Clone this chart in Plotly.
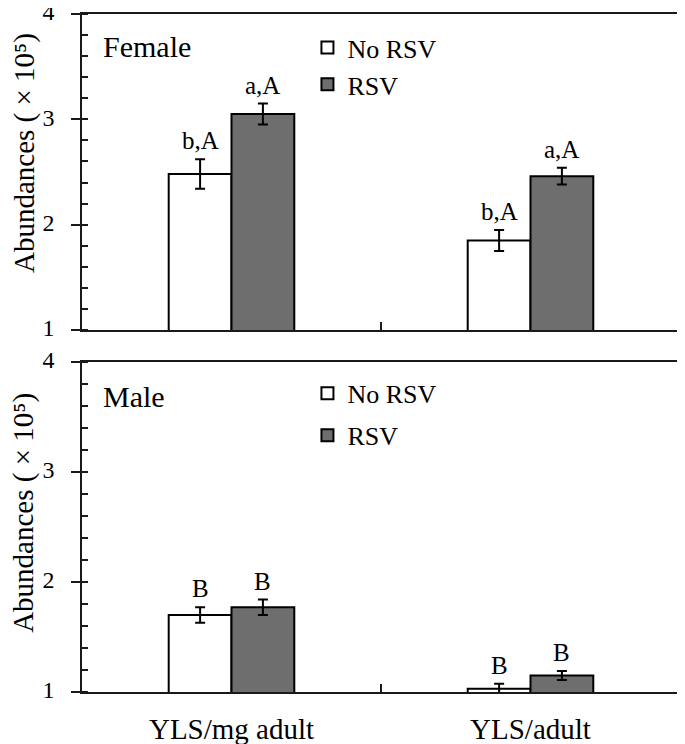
import plotly.graph_objects as go

categories = ["YLS/mg adult", "YLS/adult"]
series_names = ["No RSV", "RSV"]

female_no = [2.48, 1.85]
female_no_err = [0.14, 0.10]
female_rsv = [3.05, 2.46]
female_rsv_err = [0.10, 0.08]

male_no = [1.70, 1.03]
male_no_err = [0.07, 0.045]
male_rsv = [1.77, 1.15]
male_rsv_err = [0.07, 0.04]

female_labels_no = ["b,A", "b,A"]
female_labels_rsv = ["a,A", "a,A"]
male_labels_no = ["B", "B"]
male_labels_rsv = ["B", "B"]

yticks = [1, 2, 3, 4]
panel_names = ["Female", "Male"]

FONT = "Liberation Serif"
GRAY = "#6e6e6e"

fig = go.Figure()

def add_bars(vals, errs, name, color, xa, ya, legend, group):
    fig.add_trace(go.Bar(
        x=categories, y=vals, name=name,
        marker=dict(color=color, line=dict(color="black", width=2)),
        error_y=dict(type="data", array=errs, visible=True, color="black",
                     thickness=2, width=5),
        xaxis=xa, yaxis=ya, legend=legend, legendgroup=group,
    ))

add_bars(female_no, female_no_err, series_names[0], "white", "x", "y", "legend", "f0")
add_bars(female_rsv, female_rsv_err, series_names[1], GRAY, "x", "y", "legend", "f1")
add_bars(male_no, male_no_err, series_names[0], "white", "x2", "y2", "legend2", "m0")
add_bars(male_rsv, male_rsv_err, series_names[1], GRAY, "x2", "y2", "legend2", "m1")

annotations = []
def add_labels(vals, errs, labels, shift, xr, yr):
    for c, v, e, t in zip(categories, vals, errs, labels):
        annotations.append(dict(
            x=c, y=v + e, xref=xr, yref=yr, text=t, showarrow=False,
            xshift=shift, yshift=3, yanchor="bottom",
            font=dict(family=FONT, size=25, color="black"),
        ))

add_labels(female_no, female_no_err, female_labels_no, -31, "x", "y")
add_labels(female_rsv, female_rsv_err, female_labels_rsv, 31, "x", "y")
add_labels(male_no, male_no_err, male_labels_no, -31, "x2", "y2")
add_labels(male_rsv, male_rsv_err, male_labels_rsv, 31, "x2", "y2")

for name, yr in zip(panel_names, ["y domain", "y2 domain"]):
    annotations.append(dict(
        x=0.032, y=0.896, xref=yr.replace("y", "x"), yref=yr, text=name,
        showarrow=False, xanchor="left", yanchor="middle",
        font=dict(family=FONT, size=30, color="black"),
    ))

ytitle = "Abundances ( × 10⁵)"
for yr, yc in zip(["y domain", "y2 domain"], [0.56, 0.543]):
    annotations.append(dict(
        x=0, y=yc, xref="paper", yref=yr, text=ytitle, textangle=-90,
        showarrow=False, xanchor="center", yanchor="middle", xshift=-58,
        borderpad=0, font=dict(family=FONT, size=29, color="black"),
    ))

axis_common = dict(showline=True, linecolor="#1a1a1a", linewidth=1.5, mirror=True,
                   showgrid=False, zeroline=False, automargin=False)

xaxis_common = dict(axis_common, type="category", tickson="boundaries",
                    ticks="inside", ticklen=8, tickwidth=1.5, tickcolor="#1a1a1a",
                    ticklabelstandoff=10,
                    tickfont=dict(family=FONT, size=29, color="black"))

yaxis_common = dict(axis_common, range=[1, 4], tickvals=yticks, ticks="outside",
                    ticklen=9, tickwidth=1.5, tickcolor="#1a1a1a",
                    ticklabelstandoff=12, ticklabeloverflow="allow",
                    ticklabelshift=-2,
                    tickfont=dict(family=FONT, size=24, color="black"),
                    minor=dict(ticks="inside", ticklen=6, dtick=0.2, tickwidth=1.5,
                               tickcolor="#1a1a1a", showgrid=False))

legend_common = dict(font=dict(family=FONT, size=26, color="black"),
                     bgcolor="rgba(0,0,0,0)", borderwidth=0,
                     xanchor="left", yanchor="top")

# page body has an 8px default margin; figure is sized to fit the window
fig.update_layout(
    width=677, height=736,
    margin=dict(l=74, r=5, t=6, b=52, autoexpand=False),
    font=dict(family=FONT, color="black"),
    paper_bgcolor="white", plot_bgcolor="white",
    barmode="group", bargap=0.58, bargroupgap=0,
    xaxis=dict(xaxis_common, domain=[0, 1], anchor="y", showticklabels=False),
    yaxis=dict(yaxis_common, domain=[0.534, 1], anchor="x"),
    xaxis2=dict(xaxis_common, domain=[0, 1], anchor="y2"),
    yaxis2=dict(yaxis_common, domain=[0, 0.4867], anchor="x2"),
    legend=dict(legend_common, x=0.377, y=0.985, traceorder="normal"),
    legend2=dict(legend_common, x=0.377, y=0.475, traceorder="grouped",
                 tracegroupgap=5),
    annotations=annotations,
    showlegend=True,
)

fig.write_html("out.html")
